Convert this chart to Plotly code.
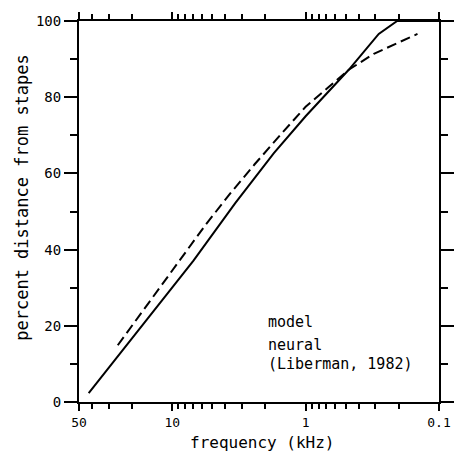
import plotly.graph_objects as go
import numpy as np

# model (solid) : frequency kHz, percent distance from stapes
model_f = [42.3, 18.0, 6.93, 3.37, 1.73, 1.0, 0.475, 0.283, 0.206, 0.1]
model_p = [2.3, 18.6, 37.1, 52.2, 65.3, 75.0, 87.2, 96.6, 100.0, 100.0]

# neural (dashed), Liberman 1982
neural_f = [25.6, 15.2, 8.77, 5.57, 3.66, 2.41, 1.51, 1.0, 0.665, 0.475, 0.308, 0.220, 0.145]
neural_p = [14.9, 25.7, 37.1, 46.7, 54.8, 62.4, 70.5, 77.5, 82.8, 87.2, 91.4, 93.7, 96.6]

x_tickvals = [50, 10, 1, 0.1]
x_ticktext = ["50", "10", "1", "0.1"]
x_minor = [40, 30, 20, 9, 8, 7, 6, 5, 4, 3, 2, 0.9, 0.8, 0.7, 0.6, 0.5, 0.4, 0.3, 0.2]
y_tickvals = [0, 20, 40, 60, 80, 100]

FONT = "DejaVu Sans Mono"

fig = go.Figure()
fig.add_trace(go.Scatter(x=model_f, y=model_p, mode="lines",
                         line=dict(color="black", width=2), showlegend=False))
fig.add_trace(go.Scatter(x=neural_f, y=neural_p, mode="lines",
                         line=dict(color="black", width=2, dash="10px,5px"), showlegend=False))

fig.update_layout(
    width=466, height=453,
    margin=dict(l=79, r=16, t=19, b=51),
    paper_bgcolor="white", plot_bgcolor="white",
    font=dict(family=FONT, color="black", size=13),
    xaxis=dict(type="log", range=[np.log10(50), np.log10(0.1)],
               tickmode="array", tickvals=x_tickvals, ticktext=x_ticktext,
               ticks="outside", ticklen=7, tickwidth=2, tickcolor="black",
               showline=True, linewidth=2, linecolor="black", mirror="ticks",
               showgrid=False, zeroline=False,
               minor=dict(tickmode="array", tickvals=x_minor, ticks="outside",
                          ticklen=5, tickwidth=2, tickcolor="black", showgrid=False),
               tickfont=dict(family=FONT, size=13)),
    yaxis=dict(range=[0, 100], tickmode="array", tickvals=y_tickvals,
               ticks="outside", ticklen=13, tickwidth=2, tickcolor="black",
               showline=True, linewidth=2, linecolor="black", mirror="ticks",
               showgrid=False, zeroline=False,
               minor=dict(dtick=10, ticks="outside", ticklen=7, tickwidth=2,
                          tickcolor="black", showgrid=False),
               tickfont=dict(family=FONT, size=14)),
)

fig.add_annotation(text="frequency (kHz)", xref="paper", yref="paper",
                   x=0.509, y=-0.133, xanchor="center", yanchor="bottom",
                   showarrow=False, borderpad=0, font=dict(family=FONT, size=16))
fig.add_annotation(text="percent distance from stapes", xref="paper", yref="paper",
                   x=-0.159, y=0.538, xanchor="center", yanchor="middle", textangle=-90,
                   showarrow=False, font=dict(family=FONT, size=17))
for txt, yy in [("model", 0.209), ("neural", 0.149), ("(Liberman, 1982)", 0.099)]:
    fig.add_annotation(text=txt, xref="paper", yref="paper", x=0.52, y=yy,
                       xanchor="left", yanchor="middle", showarrow=False,
                       font=dict(family=FONT, size=15))

fig.write_html("out.html")
